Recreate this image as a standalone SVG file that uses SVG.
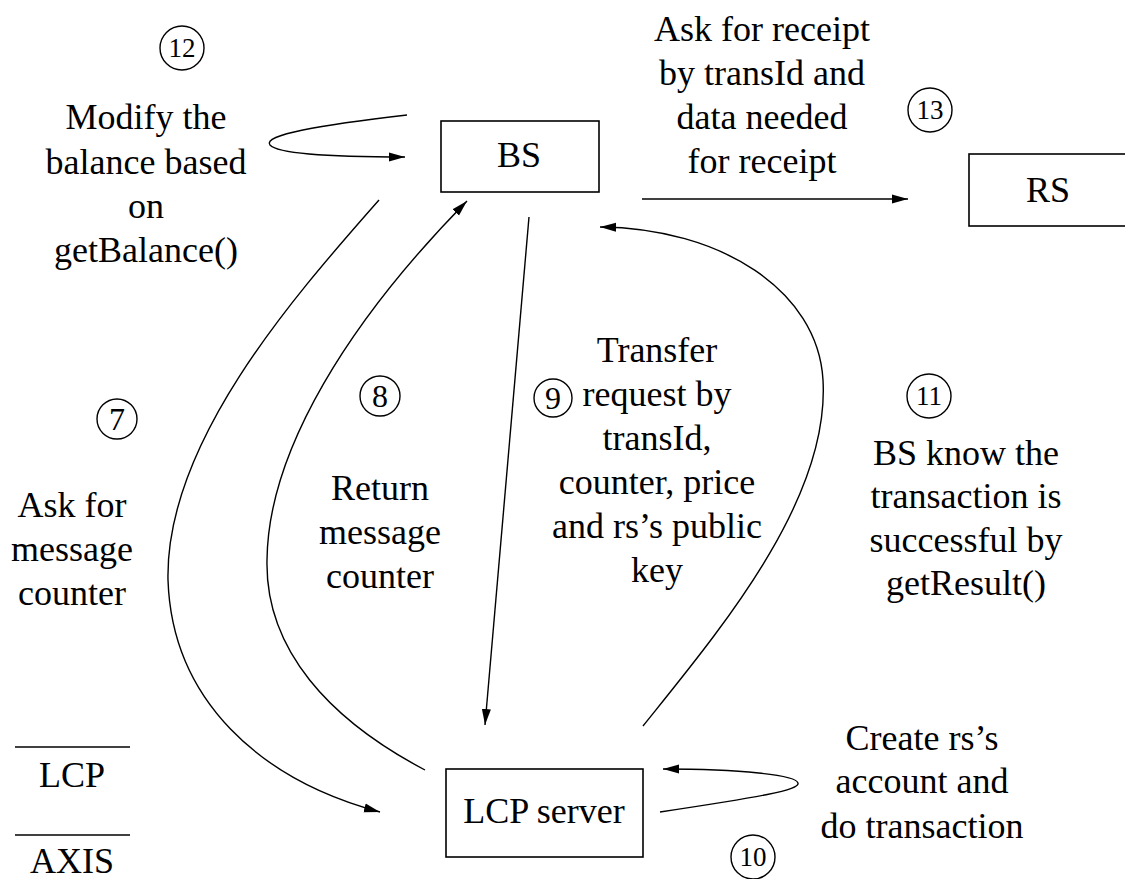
<svg xmlns="http://www.w3.org/2000/svg" width="1125" height="879" viewBox="0 0 1125 879">
  <defs>
    <marker id="arrow" markerUnits="userSpaceOnUse" markerWidth="17" markerHeight="10" refX="16" refY="5" orient="auto">
      <path d="M0,0.5 L16,5 L0,9.5 z" fill="#000"/>
    </marker>
  </defs>

  <rect width="1125" height="879" fill="#fff"/>

  <!-- connectors -->
  <g id="connectors" fill="none" stroke="#000" stroke-width="1.4">
    <!-- 12: BS self loop -->
    <path d="M407,115 C320,125 262,135 270,145 C278,154 340,157 405,157" marker-end="url(#arrow)"/>
    <!-- 13: BS to RS -->
    <path d="M642,199 L908,199" marker-end="url(#arrow)"/>
    <!-- 7: BS to LCP server -->
    <path d="M379,200 C300,290 165,440 168,580 C172,700 260,780 380,812" marker-end="url(#arrow)"/>
    <!-- 8: LCP server to BS -->
    <path d="M425,770 C330,720 265,650 267,560 C268,450 350,320 467,201" marker-end="url(#arrow)"/>
    <!-- 9: BS to LCP server -->
    <path d="M529,217 L485,725" marker-end="url(#arrow)"/>
    <!-- 10: LCP server self loop -->
    <path d="M660,812 C760,797 800,790 798,783 C796,775 740,769 663,769" marker-end="url(#arrow)"/>
    <!-- 11: LCP server to BS -->
    <path d="M643,726 C720,630 830,500 823,380 C818,290 720,228 600,227" marker-end="url(#arrow)"/>
  </g>

  <!-- all labels share one serif face, centred -->
  <g font-family="Liberation Serif" font-size="36" text-anchor="middle" fill="#000">

    <!-- nodes -->
    <g id="node-bs">
      <rect x="441" y="121" width="158" height="71" fill="#fff" stroke="#000" stroke-width="1.6"/>
      <text x="519" y="167">BS</text>
    </g>
    <g id="node-rs">
      <rect x="969" y="154" width="158" height="72" fill="#fff" stroke="#000" stroke-width="1.6"/>
      <text x="1048" y="202">RS</text>
    </g>
    <g id="node-lcp-server">
      <rect x="446" y="769" width="197" height="88" fill="#fff" stroke="#000" stroke-width="1.6"/>
      <text x="544" y="823">LCP server</text>
    </g>

    <!-- layer legend -->
    <g id="layers">
      <line x1="15" y1="747" x2="130" y2="747" stroke="#000" stroke-width="1.4"/>
      <text x="72" y="787">LCP</text>
      <line x1="15" y1="835" x2="130" y2="835" stroke="#000" stroke-width="1.4"/>
      <text x="72" y="873">AXIS</text>
    </g>

    <!-- step labels -->
    <g id="step-12">
      <circle cx="182" cy="48" r="22" fill="none" stroke="#000" stroke-width="1.4"/>
      <text x="182" y="57" font-size="27">12</text>
      <text x="146" y="129">Modify the</text>
      <text x="146" y="174">balance based</text>
      <text x="146" y="218">on</text>
      <text x="146" y="262">getBalance()</text>
    </g>

    <g id="step-13">
      <circle cx="930" cy="110" r="22" fill="none" stroke="#000" stroke-width="1.4"/>
      <text x="930" y="119" font-size="27">13</text>
      <text x="762" y="41">Ask for receipt</text>
      <text x="762" y="85">by transId and</text>
      <text x="762" y="129">data needed</text>
      <text x="762" y="173">for receipt</text>
    </g>

    <g id="step-7">
      <circle cx="117" cy="419" r="20" fill="none" stroke="#000" stroke-width="1.4"/>
      <text x="117" y="430" font-size="32">7</text>
      <text x="72" y="517">Ask for</text>
      <text x="72" y="561">message</text>
      <text x="72" y="605">counter</text>
    </g>

    <g id="step-8">
      <circle cx="380" cy="396" r="20" fill="none" stroke="#000" stroke-width="1.4"/>
      <text x="380" y="407" font-size="32">8</text>
      <text x="380" y="500">Return</text>
      <text x="380" y="544">message</text>
      <text x="380" y="588">counter</text>
    </g>

    <g id="step-9">
      <circle cx="553" cy="398" r="19" fill="none" stroke="#000" stroke-width="1.4"/>
      <text x="553" y="409" font-size="32">9</text>
      <text x="657" y="362">Transfer</text>
      <text x="657" y="406">request by</text>
      <text x="657" y="450">transId,</text>
      <text x="657" y="494">counter, price</text>
      <text x="657" y="538">and rs&#8217;s public</text>
      <text x="657" y="582">key</text>
    </g>

    <g id="step-10">
      <circle cx="753" cy="857" r="22" fill="none" stroke="#000" stroke-width="1.4"/>
      <text x="753" y="866" font-size="27">10</text>
      <text x="922" y="750">Create rs&#8217;s</text>
      <text x="922" y="793">account and</text>
      <text x="922" y="838">do transaction</text>
    </g>

    <g id="step-11">
      <circle cx="929" cy="396" r="22" fill="none" stroke="#000" stroke-width="1.4"/>
      <text x="929" y="405" font-size="27">11</text>
      <text x="966" y="465">BS know the</text>
      <text x="966" y="508">transaction is</text>
      <text x="966" y="552">successful by</text>
      <text x="966" y="595">getResult()</text>
    </g>
  </g>
</svg>
